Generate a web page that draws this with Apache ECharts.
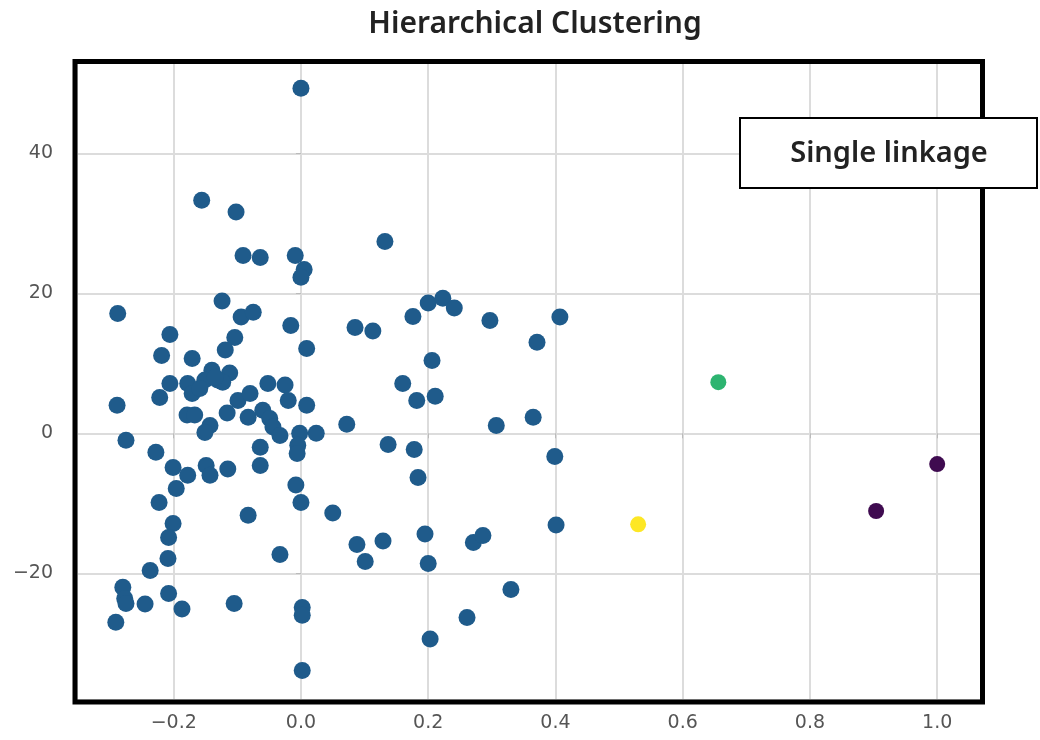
<!DOCTYPE html>
<html>
<head>
<meta charset="utf-8">
<script src="https://cdn.jsdelivr.net/npm/echarts@6/dist/echarts.min.js"></script>
<style>html,body{margin:0;padding:0;background:#fff}#c{width:1040px;height:740px}</style>
</head>
<body>
<div id="c"></div>
<script>
// Cluster 0 (blue) points: [x, y]
const clusterBlue = [
  [0.000,49.3],[-0.156,33.3],[-0.102,31.6],[-0.091,25.4],[-0.064,25.1],[-0.009,25.4],[0.005,23.4],[0.000,22.3],
  [0.132,27.4],[-0.288,17.1],[-0.124,18.9],[-0.094,16.6],[-0.075,17.3],[-0.016,15.4],[0.009,12.1],[-0.206,14.1],
  [-0.219,11.1],[-0.171,10.7],[-0.104,13.7],[-0.119,11.9],[-0.140,9.0],[-0.112,8.6],[-0.131,7.6],[-0.178,7.1],
  [-0.206,7.1],[-0.171,5.7],[-0.151,7.6],[-0.159,6.4],[-0.222,5.1],[-0.289,4.0],[-0.052,7.1],[-0.025,6.9],
  [-0.020,4.7],[0.009,4.0],[-0.099,4.7],[-0.080,5.7],[-0.083,2.3],[-0.060,3.3],[-0.049,2.1],[-0.044,0.9],
  [-0.033,-0.3],[-0.116,2.9],[-0.179,2.6],[-0.167,2.6],[-0.143,1.1],[-0.151,0.1],[-0.002,0.0],[-0.005,-1.7],
  [-0.006,-2.9],[0.024,0.0],[-0.064,-2.0],[-0.064,-4.6],[-0.275,-1.0],[-0.228,-2.7],[-0.201,-4.9],[-0.178,-6.0],
  [-0.149,-4.6],[-0.143,-6.0],[-0.115,-5.1],[-0.008,-7.4],[-0.196,-7.9],[-0.223,-9.9],[-0.083,-11.7],[0.000,-9.9],
  [0.050,-11.4],[-0.201,-12.9],[-0.208,-14.9],[-0.033,-17.3],[-0.209,-17.9],[-0.237,-19.6],[-0.280,-22.0],[-0.277,-23.6],
  [-0.275,-24.3],[-0.245,-24.4],[-0.208,-22.9],[-0.187,-25.1],[-0.105,-24.3],[-0.291,-27.0],[0.002,-24.9],[0.002,-26.0],
  [0.002,-33.9],[0.200,18.6],[0.223,19.3],[0.241,17.9],[0.176,16.7],[0.085,15.1],[0.113,14.6],[0.297,16.1],
  [0.407,16.6],[0.371,13.0],[0.206,10.4],[0.160,7.1],[0.182,4.7],[0.211,5.3],[0.072,1.3],[0.307,1.1],
  [0.365,2.3],[0.137,-1.6],[0.178,-2.3],[0.399,-3.3],[0.184,-6.3],[0.088,-15.9],[0.101,-18.3],[0.129,-15.4],
  [0.195,-14.4],[0.200,-18.6],[0.271,-15.6],[0.286,-14.6],[0.401,-13.1],[0.330,-22.3],[0.261,-26.3],[0.203,-29.4],
  [-0.123,7.3],[-0.135,8.0]
];
const clusterYellow = [[0.530,-13.0]];
const clusterGreen = [[0.656,7.3]];
const clusterPurple = [[0.904,-11.1],[1.000,-4.4]];

const titleText = 'Hierarchical Clustering';
const legendText = 'Single linkage';

const fmtMinus = s => String(s).replace('-', '\u2212');

const chart = echarts.init(document.getElementById('c'), null, {renderer: 'canvas'});
chart.setOption({
  animation: false,
  backgroundColor: '#fff',
  title: {
    text: titleText,
    left: 530, top: 4, textAlign: 'center',
    textStyle: {fontFamily: 'Noto Sans', fontSize: 30, fontWeight: 600, color: '#222'}
  },
  grid: {
    left: 77, right: 57, top: 63, bottom: 40,
    show: false
  },
  xAxis: {
    type: 'value', min: -0.352, max: 1.072, splitNumber: 7,
    axisLine: {show: false},
    axisTick: {show: true, length: 5, lineStyle: {color: '#bbb'}},
    splitLine: {show: true, lineStyle: {color: '#dcdcdc', width: 2}},
    axisLabel: {
      showMinLabel: false, showMaxLabel: false, margin: 14,
      fontFamily: 'DejaVu Sans', fontSize: 19, color: '#555',
      formatter: v => fmtMinus(v.toFixed(1))
    }
  },
  yAxis: {
    type: 'value', min: -38.1, max: 52.9, splitNumber: 5,
    axisLine: {show: false},
    axisTick: {show: true, length: 5, lineStyle: {color: '#bbb'}},
    splitLine: {show: true, lineStyle: {color: '#dcdcdc', width: 2}},
    axisLabel: {
      showMinLabel: false, showMaxLabel: false, margin: 24,
      fontFamily: 'DejaVu Sans', fontSize: 19, color: '#555',
      formatter: v => fmtMinus(Math.round(v))
    }
  },
  series: [
    {type: 'scatter', data: clusterBlue, symbolSize: 17, itemStyle: {color: '#1f5b8b', opacity: 1}},
    {type: 'scatter', data: clusterYellow, symbolSize: 16, itemStyle: {color: '#fde725', opacity: 1}},
    {type: 'scatter', data: clusterGreen, symbolSize: 16, itemStyle: {color: '#2db470', opacity: 1}},
    {type: 'scatter', data: clusterPurple, symbolSize: 16, itemStyle: {color: '#3f0b50', opacity: 1}}
  ],
  graphic: [
    {type: 'rect', z: 90, silent: true, shape: {x: 75, y: 61.5, width: 907.5, height: 640.5},
     style: {fill: 'none', stroke: '#000', lineWidth: 5}},
    {type: 'rect', z: 100, shape: {x: 740, y: 118, width: 297, height: 70},
     style: {fill: '#fff', stroke: '#000', lineWidth: 2}},
    {type: 'text', z: 101, x: 889, y: 154,
     style: {text: legendText, fontFamily: 'Noto Sans', fontSize: 29, fontWeight: 600, fill: '#222',
             textAlign: 'center', textVerticalAlign: 'middle'}}
  ]
});
</script>
</body>
</html>
